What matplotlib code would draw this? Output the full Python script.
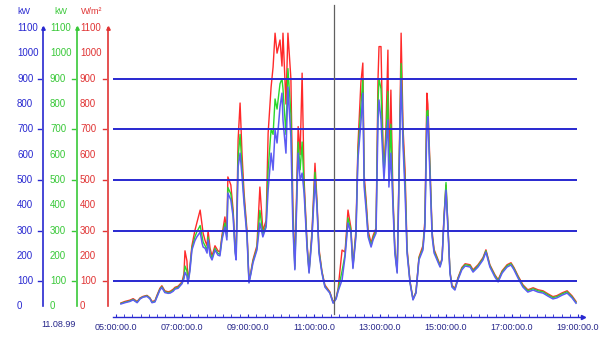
import numpy as np
import matplotlib.pyplot as plt
from matplotlib.ticker import MultipleLocator

plt.rcParams['font.family'] = ['Liberation Sans', 'DejaVu Sans']

# time of day in hours
hours = [5.15, 5.27, 5.42, 5.52, 5.64, 5.73, 5.82, 5.94, 6.03, 6.09, 6.18, 6.24, 6.33, 6.39, 6.48, 6.58,
         6.64, 6.73, 6.79, 6.88, 7.00, 7.06, 7.09, 7.15, 7.18, 7.24, 7.30, 7.39, 7.45, 7.55, 7.61, 7.64,
         7.70, 7.76, 7.79, 7.85, 7.91, 8.00, 8.09, 8.15, 8.21, 8.30, 8.36, 8.39, 8.48, 8.55, 8.61, 8.64,
         8.70, 8.76, 8.82, 8.88, 8.97, 9.03, 9.09, 9.15, 9.27, 9.36, 9.45, 9.55, 9.61, 9.70, 9.76, 9.82,
         9.88, 9.97, 10.03, 10.06, 10.15, 10.21, 10.30, 10.36, 10.42, 10.52, 10.58, 10.64, 10.70, 10.79,
         10.85, 10.94, 11.03, 11.09, 11.15, 11.24, 11.33, 11.48, 11.58, 11.67, 11.73, 11.85, 11.94, 12.03,
         12.12, 12.18, 12.27, 12.33, 12.42, 12.48, 12.52, 12.58, 12.64, 12.73, 12.79, 12.88, 12.94, 12.97,
         13.03, 13.09, 13.12, 13.18, 13.24, 13.27, 13.33, 13.39, 13.45, 13.52, 13.55, 13.61, 13.64, 13.70,
         13.76, 13.82, 13.91, 14.00, 14.09, 14.18, 14.30, 14.36, 14.42, 14.45, 14.52, 14.58, 14.64, 14.73,
         14.82, 14.88, 14.94, 15.00, 15.06, 15.12, 15.18, 15.27, 15.36, 15.48, 15.58, 15.73, 15.82, 15.97,
         16.12, 16.21, 16.33, 16.48, 16.58, 16.70, 16.85, 16.97, 17.06, 17.18, 17.33, 17.48, 17.64, 17.79,
         17.94, 18.09, 18.24, 18.36, 18.52, 18.67, 18.82, 18.94]

# output power kW (blue)
power_a = [10, 15, 20, 26, 15, 30, 37, 40, 30, 15, 18, 37, 65, 75, 55, 52,
           53, 60, 69, 72, 90, 110, 135, 120, 90, 140, 223, 260, 275, 294, 250, 235,
           230, 211, 263, 200, 184, 223, 203, 200, 263, 314, 263, 448, 421, 354, 211, 184,
           551, 606, 512, 409, 275, 93, 130, 172, 223, 330, 275, 314, 460, 606, 539, 697,
           646, 789, 843, 737, 606, 867, 670, 314, 145, 606, 500, 527, 448, 230,
           132, 275, 500, 393, 211, 132, 77, 53, 13, 30, 60, 105, 196, 330,
           290, 150, 275, 579, 724, 843, 472, 381, 275, 235, 263, 290, 737, 816,
           737, 579, 500, 631, 737, 472, 606, 409, 211, 132, 314, 737, 895, 631,
           448, 211, 93, 26, 53, 184, 223, 314, 711, 750, 500, 275, 211, 184,
           156, 184, 342, 460, 302, 132, 77, 65, 105, 145, 160, 156, 136, 156,
           184, 215, 156, 117, 97, 132, 156, 164, 145, 113, 77, 57, 65, 57,
           53, 41, 30, 34, 45, 53, 34, 13]

# second power channel kW (green)
power_b = [12, 17, 22, 28, 17, 32, 38, 42, 32, 17, 20, 40, 68, 78, 58, 55,
           56, 64, 72, 76, 93, 118, 160, 140, 92, 148, 230, 275, 295, 320, 275, 255,
           240, 222, 275, 212, 190, 230, 210, 206, 270, 330, 275, 470, 445, 365, 220, 190,
           590, 680, 545, 425, 285, 96, 134, 178, 230, 380, 285, 325, 540, 700, 680, 820,
           780, 880, 900, 860, 680, 940, 760, 350, 150, 650, 540, 650, 470, 240,
           136, 285, 530, 405, 220, 136, 80, 55, 15, 32, 65, 140, 205, 350,
           300, 155, 285, 600, 790, 900, 495, 400, 285, 242, 270, 300, 810, 900,
           860, 610, 520, 660, 850, 495, 720, 430, 220, 136, 325, 765, 960, 660,
           490, 220, 96, 28, 55, 190, 230, 325, 770, 775, 520, 285, 218, 190,
           160, 187, 350, 490, 310, 136, 80, 68, 109, 150, 165, 161, 140, 161,
           189, 220, 161, 122, 102, 137, 161, 169, 150, 118, 82, 62, 70, 62,
           58, 46, 35, 39, 50, 58, 38, 16]

# irradiance W/m2 (red)
irradiance = [14, 20, 25, 31, 20, 34, 40, 44, 34, 20, 23, 44, 72, 82, 62, 58,
              60, 68, 76, 80, 97, 130, 220, 180, 95, 160, 240, 300, 330, 381, 320, 290,
              260, 240, 300, 230, 200, 240, 220, 215, 280, 354, 290, 512, 480, 380, 230, 200,
              658, 804, 600, 450, 300, 100, 140, 185, 240, 472, 300, 340, 685, 867, 946, 1080,
              1001, 1053, 950, 1080, 800, 1080, 900, 400, 160, 711, 600, 922, 500, 250,
              140, 300, 566, 420, 230, 140, 85, 58, 18, 35, 70, 223, 215, 381,
              310, 160, 300, 631, 883, 962, 520, 420, 300, 250, 280, 310, 900, 1027,
              1027, 640, 540, 700, 1013, 520, 855, 450, 230, 140, 340, 800, 1080, 700,
              539, 230, 100, 30, 58, 195, 240, 340, 843, 800, 540, 295, 225, 195,
              165, 190, 360, 480, 315, 140, 84, 72, 113, 154, 169, 165, 145, 165,
              193, 224, 165, 126, 106, 141, 165, 173, 154, 122, 86, 66, 74, 66,
              62, 50, 39, 43, 54, 62, 42, 20]

grid_levels = [100, 300, 500, 700, 900]
axis_ticks = list(range(0, 1101, 100))
x_ticks = [5, 7, 9, 11, 13, 15, 17, 19]
x_labels = [f"{h:02d}:00:00.0" for h in x_ticks]
cursor_hour = 11.61

BLUE = "#2828d0"
GREEN = "#38c838"
RED = "#e03434"
NAVY = "#26268a"

fig = plt.figure(figsize=(6.05, 3.44), dpi=100)
ylo, yhi = -41.5, 1132

ax = fig.add_axes([113 / 605, 27 / 344, 470 / 605, 297 / 344])
ax.set_xlim(5 - 3 / 33, 5 + 467 / 33)
ax.set_ylim(ylo, yhi)

ax.plot(hours, irradiance, color="#ff2a2a", lw=1.0, zorder=2)
ax.plot(hours, power_b, color="#2ad82a", lw=1.0, zorder=2.1)
ax.plot(hours, power_a, color="#5c5cf2", lw=1.1, zorder=2.2)

ax.hlines(grid_levels, 5 - 3 / 33, 5 + 461 / 33, color=BLUE, lw=1.4, zorder=3)
ax.axvline(cursor_hour, ymin=0.01, ymax=1.05, color="#606060", lw=0.9, clip_on=False, zorder=4)

for s in ["top", "right", "left"]:
    ax.spines[s].set_visible(False)
ax.spines["bottom"].set_color(BLUE)
ax.spines["bottom"].set_linewidth(1.0)
ax.plot(1, 0, ">", color=BLUE, ms=3, transform=ax.transAxes, clip_on=False)
ax.set_yticks([])
ax.set_xticks(x_ticks)
ax.set_xticklabels(x_labels, fontsize=6.5, color=NAVY)
ax.xaxis.set_minor_locator(MultipleLocator(0.25))
ax.tick_params(axis="x", which="both", direction="in", length=2, color=BLUE, pad=4)

# left-hand value axes
axl = fig.add_axes([0, 27 / 344, 113 / 605, 297 / 344])
axl.set_xlim(0, 113)
axl.set_ylim(ylo, yhi)
axl.axis("off")

scales = [(43, 17, BLUE, "kW", 24), (77, 50, GREEN, "kW", 61), (108, 80, RED, "W/m²", 92)]
for xline, xlab, col, unit, xunit in scales:
    axl.plot([xline, xline], [1100, 0], color=col, lw=1.2)
    axl.plot(xline, 1100, "^", color=col, ms=2.5)
    for v in axis_ticks:
        axl.text(xlab, v, str(v), color=col, fontsize=7, ha="left", va="center")
    for v in grid_levels:
        axl.plot([xline - 5, xline - 2], [v, v], color=col, lw=1)
    axl.text(xunit, 1165, unit, color=col, fontsize=6.5, ha="center", va="center")

axl.text(59, -73, "11.08.99", color=NAVY, fontsize=6.5, ha="center", va="center")

fig.savefig("out.png", dpi=100)
